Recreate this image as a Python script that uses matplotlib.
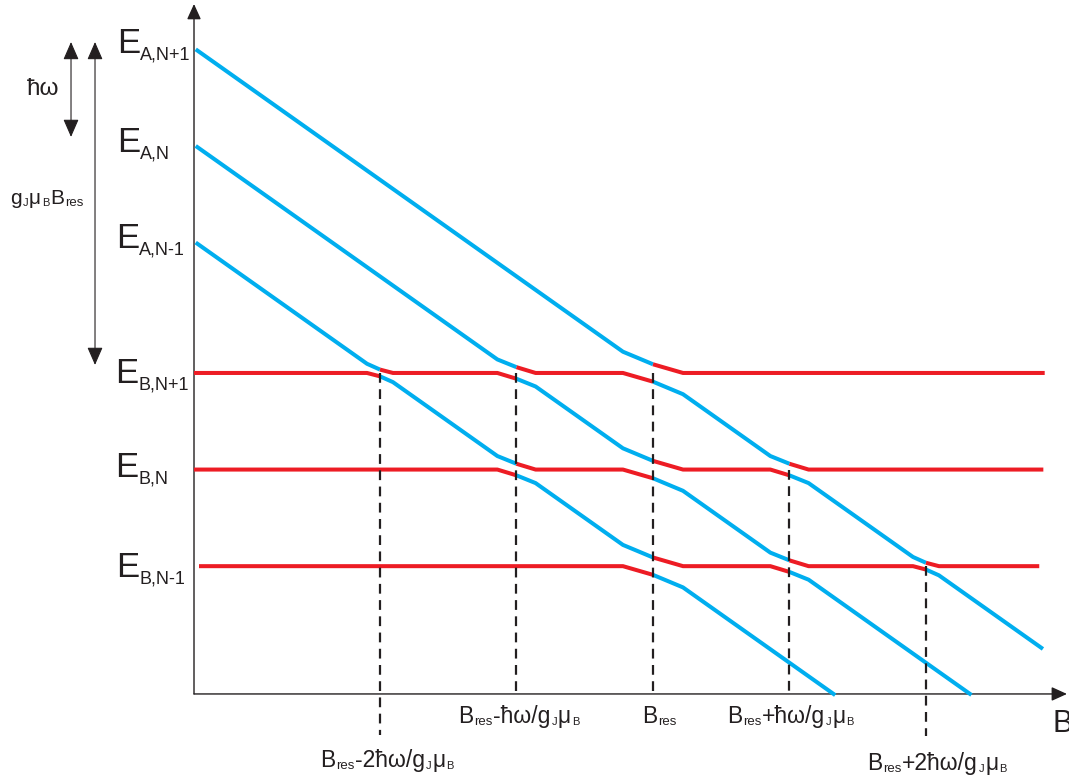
import numpy as np
import matplotlib
matplotlib.use("Agg")
import matplotlib.pyplot as plt
from matplotlib.transforms import offset_copy
from matplotlib.patches import ArrowStyle

plt.rcParams['font.family'] = ['Liberation Sans', 'DejaVu Sans']

# ---------------- data (B in units of hbar*omega/(gJ muB) relative to B_res,
#                         E in units of hbar*omega relative to E_B,N+1) -------------
blue_labels = ['A,N+1', 'A,N', 'A,N-1']
blue_offsets = [0.0, -1.0, -2.0]          # E_A = offset - B
blue_start = [-3.35, -3.35, -3.35]
blue_end = [2.857, 2.333, 1.335]

red_labels = ['B,N+1', 'B,N', 'B,N-1']
red_levels = [0.0, -1.0, -2.0]
red_start = [-3.363, -3.363, -3.326]
red_end = [2.87, 2.86, 2.83]

# avoided-crossing half-width and half-gap, indexed by |B_c - B_res|
order_width = [0.22, 0.14, 0.095]
order_gap = [0.09, 0.06, 0.035]

marker_B = [-2, -1, 0, 1, 2]
marker_top = [0.0, 0.0, 0.0, -1.0, -2.0]
marker_bottom = [-3.75, -3.33, -3.30, -3.31, -3.76]

BLUE = '#00AEEF'
RED = '#ED1C24'
INK = '#231F20'

fig = plt.figure(figsize=(10.69, 7.78), dpi=100)
ax = fig.add_axes([0, 0, 1, 1])
ax.set_xlim(-4.784, 3.048)
ax.set_ylim(-4.193, 3.861)
ax.axis('off')
renderer = fig.canvas.get_renderer()


def P(px, py):
    """layout helper: reference pixel -> data coordinates"""
    return (px - 653) / 136.5, (373 - py) / 96.6


# crossings
crossings = []
for c in blue_offsets:
    for e in red_levels:
        Bc = c - e
        crossings.append((Bc, e))

# blue levels
for c, b0, b1 in zip(blue_offsets, blue_start, blue_end):
    xs, ys = [b0], [c - b0]
    for Bc, Ec in sorted(cr for cr in crossings if abs((c - cr[0]) - cr[1]) < 1e-9):
        o = int(round(abs(Bc)))
        w, g = order_width[o], order_gap[o]
        xs += [Bc - w, Bc, np.nan, Bc, Bc + w]
        ys += [c - (Bc - w), Ec + g, np.nan, Ec - g, c - (Bc + w)]
    xs.append(b1)
    ys.append(c - b1)
    ax.plot(xs, ys, color=BLUE, lw=2.9, solid_capstyle='butt', solid_joinstyle='round', zorder=3)

# red levels
for e, b0, b1 in zip(red_levels, red_start, red_end):
    xs, ys = [b0], [e]
    for Bc, Ec in sorted(cr for cr in crossings if cr[1] == e):
        o = int(round(abs(Bc)))
        w, g = order_width[o], order_gap[o]
        xs += [Bc - w, Bc, np.nan, Bc, Bc + w]
        ys += [e, e - g, np.nan, e + g, e]
    xs.append(b1)
    ys.append(e)
    ax.plot(xs, ys, color=RED, lw=2.9, solid_capstyle='butt', solid_joinstyle='round', zorder=3)

# dashed markers
for b, t, bt in zip(marker_B, marker_top, marker_bottom):
    ax.plot([b, b], [t, bt], color=INK, lw=1.6, dashes=(4.4, 2.9), zorder=4)

# axes arrows
ox, oy = P(194, 694)
ax_style = ArrowStyle('-|>', head_length=0.55, head_width=0.25)
ax.annotate('', xy=(P(1067, 694)[0], oy), xytext=(ox, oy),
            arrowprops=dict(arrowstyle=ax_style, mutation_scale=17, lw=1.0, color=INK,
                            shrinkA=0, shrinkB=0), zorder=2)
ax.annotate('', xy=(ox, P(194, 4)[1]), xytext=(ox, oy),
            arrowprops=dict(arrowstyle=ax_style, mutation_scale=17, lw=1.0, color=INK,
                            shrinkA=0, shrinkB=0), zorder=2)

# double arrows on the left
dstyle = ArrowStyle('<|-|>', head_length=0.55, head_width=0.24)
for px, py0, py1 in [(71, 42, 137), (95, 42, 365)]:
    x0, y0 = P(px, py0)
    _, y1 = P(px, py1)
    ax.annotate('', xy=(x0, y0), xytext=(x0, y1),
                arrowprops=dict(arrowstyle=dstyle, mutation_scale=20, lw=0.8, color=INK,
                                shrinkA=0, shrinkB=0))


def rich(px, py, parts, gap=0.8):
    x, y = P(px, py)
    dx = 0.0
    for s, size, dy in parts:
        tr = offset_copy(ax.transData, fig=fig, x=dx, y=-dy, units='dots')
        t = ax.text(x, y, s, fontsize=size, color=INK, transform=tr,
                    ha='left', va='baseline')
        bb = t.get_window_extent(renderer)
        dx += bb.width + gap


# level labels
for lab, (px, py) in zip(blue_labels, [(117, 53), (117, 152), (116, 248)]):
    rich(px, py, [('E', 25, 0), (lab, 13, 6.5)], gap=0)
for lab, (px, py) in zip(red_labels, [(115, 383), (115, 477), (116, 577)]):
    rich(px, py, [('E', 25, 0), (lab, 13, 6.5)], gap=0)

rich(27, 95, [('ħω', 17.5, 0)])
rich(10, 204, [('g', 15, 0), ('J', 8, 2), ('μ', 15, 0), ('B', 8, 2),
               ('B', 15, 0), ('res', 9.5, 2)])

# field labels
def field_label(px, py, middle):
    parts = [('B', 16.5, 0), ('res', 9.5, 2)]
    if middle:
        parts += [(middle, 16.5, 0), ('J', 8, 2), ('μ', 16.5, 0), ('B', 8, 2)]
    rich(px, py, parts)

field_label(320, 767, '-2ħω/g')
field_label(458, 723, '-ħω/g')
field_label(642, 723, None)
field_label(727, 723, '+ħω/g')
field_label(867, 770, '+2ħω/g')

rich(1053, 732, [('B', 22, 0)])

fig.savefig('out.png', dpi=100)
